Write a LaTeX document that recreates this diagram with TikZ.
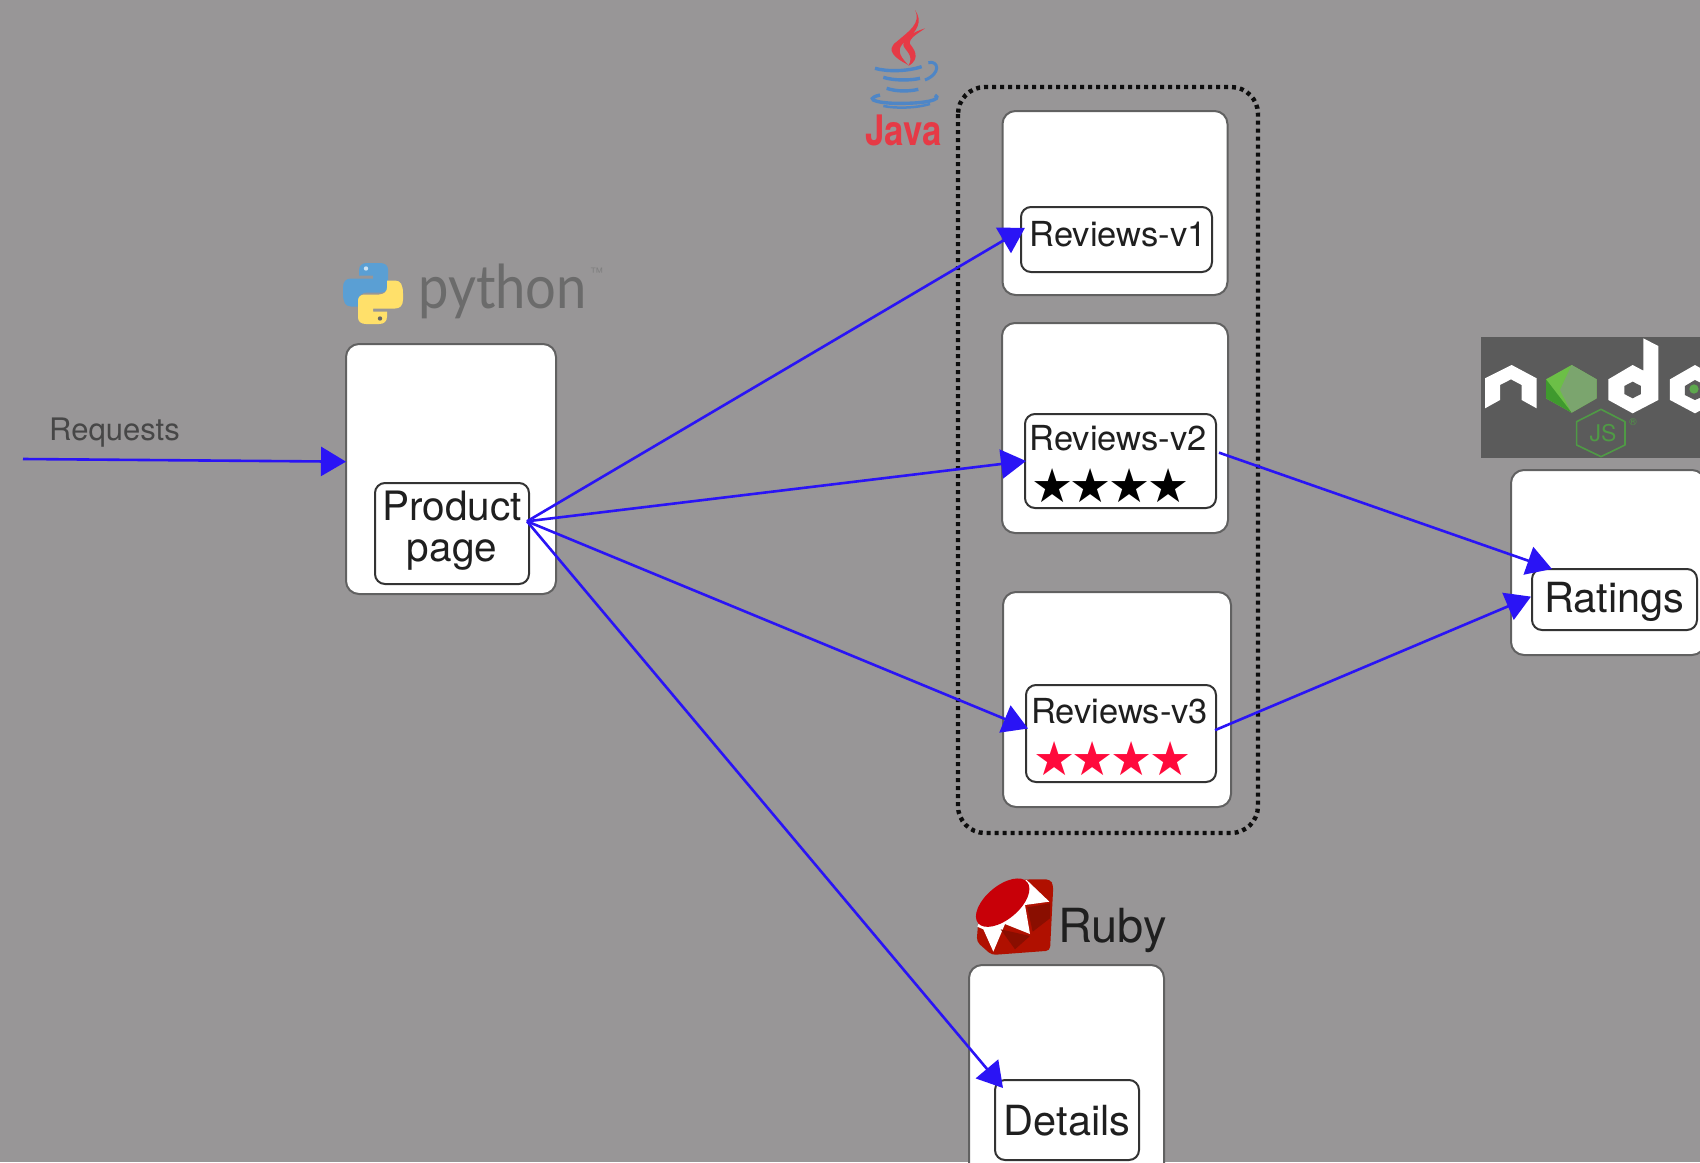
\documentclass[tikz,border=0pt]{standalone}
\usepackage{fontspec}
\setmainfont{TeX Gyre Heros}
\newfontfamily\starfont{DejaVu Sans}
\newfontfamily\logofont{Lato}
\usetikzlibrary{arrows.meta,calc}
\definecolor{bgc}{HTML}{989697}
\definecolor{flowc}{HTML}{2A14F5}
\definecolor{nodebg}{HTML}{5B5B5B}
\definecolor{jred}{HTML}{E63A46}
\definecolor{jblue}{HTML}{4F86C6}
\definecolor{pyblue}{HTML}{5A9FD4}
\definecolor{pyyellow}{HTML}{FFE06A}
\definecolor{rubydark}{HTML}{B01000}
\definecolor{rubydeep}{HTML}{8A0E00}
\definecolor{rubyred}{HTML}{C80008}
\definecolor{ngreen}{HTML}{6CBF47}
\definecolor{ngreendk}{HTML}{3F9A2E}
\definecolor{ngreengr}{HTML}{7BA56E}
\definecolor{ngreendot}{HTML}{5DA84D}
\definecolor{njs}{HTML}{4F9A45}
\definecolor{starred}{HTML}{FF0A3C}
\newcommand{\fs}[1]{\fontsize{#1}{#1}\selectfont}
\newcommand{\fourstars}{★\kern-3.5pt★\kern-3.5pt★\kern-3.5pt★}
\tikzset{
  outerbox/.style={draw=black!62,line width=2pt,fill=white,rounded corners=13pt,inner sep=0pt,outer sep=0pt},
  innerbox/.style={draw=black!80,line width=2pt,fill=white,rounded corners=10pt,inner sep=0pt,outer sep=0pt,text=black!88},
  flow/.style={draw=flowc,line width=2.6pt,-{Triangle[length=25pt,width=29pt,fill=flowc]}},
  starrow/.style={inner sep=0pt,anchor=west,font=\starfont\fs{47}},
  plain/.style={inner sep=0pt,anchor=base west},
}
\begin{document}
\begin{tikzpicture}[x=1pt,y=-1pt]
\useasboundingbox (0,0) rectangle (1700,1162);
\clip (0,0) rectangle (1700,1162);
\fill[bgc] (0,0) rectangle (1700,1162);

% dotted group
\draw[black!95,line width=4.4pt,dash pattern=on 4pt off 4pt,rounded corners=27pt] (958,87) rectangle (1258,833);

% service boxes
\node[outerbox,minimum width=210pt,minimum height=250pt] (prodOuter) at (451,469) {};
\node[outerbox,minimum width=225pt,minimum height=184pt] (v1Outer) at (1115,203) {};
\node[outerbox,minimum width=226pt,minimum height=210pt] (v2Outer) at (1115,428) {};
\node[outerbox,minimum width=228pt,minimum height=215pt] (v3Outer) at (1117,699.5) {};
\node[outerbox,minimum width=194pt,minimum height=185pt] (ratOuter) at (1608,562.5) {};
\node[outerbox,minimum width=195pt,minimum height=215pt] (detOuter) at (1066.5,1072.5) {};

\node[innerbox,minimum width=154pt,minimum height=101pt,align=center,font=\fontsize{40.5}{41}\selectfont] (prod) at (452,533.5) {Product\\page\rule[-14pt]{0pt}{1pt}};
\node[innerbox,minimum width=191pt,minimum height=65pt,font=\fs{34.5},text height=22pt,text depth=9pt] (v1) at (1116.5,239.5) {\hspace*{3pt}Reviews-v1};
\node[innerbox,minimum width=191pt,minimum height=94pt,font=\fs{34.5},text height=8pt,text depth=30pt] (v2) at (1120.5,461) {Reviews-v2\hspace*{5pt}};
\node[innerbox,minimum width=190pt,minimum height=97pt,font=\fs{34.5},text height=9pt,text depth=30pt] (v3) at (1121,733.5) {Reviews-v3\hspace*{3pt}};
\node[innerbox,minimum width=165pt,minimum height=61pt,font=\fs{41.5},text height=30pt,text depth=5pt] (rat) at (1614.5,599.5) {Ratings};
\node[innerbox,minimum width=144pt,minimum height=80pt,font=\fs{41.5},text height=31pt,text depth=0pt] (det) at (1067,1120) {Details};

\node[starrow,text=black] (stars2) at (1031,486) {\fourstars};
\node[starrow,text=starred] (stars3) at (1033,759) {\fourstars};

\node[plain,font=\fs{31},text=black!72] (req) at (49,440) {Requests};
\coordinate (reqStart) at (23,459);

% connectors
\draw[flow] (reqStart) -- (prodOuter.176);
\draw[flow] ([xshift=-2pt]prod.9) -- ([xshift=4pt]v1.173);
\draw[flow] ([xshift=-2pt]prod.9) -- ([xshift=1pt]v2.west);
\draw[flow] ([xshift=-2pt]prod.9) -- ([xshift=2pt]v3.177);
\draw[flow] ([xshift=-2pt]prod.9) -- ([shift={(8pt,-8pt)}]det.north west);
\draw[flow] ([xshift=3pt]v2.5) -- (rat.154);
\draw[flow] ([xshift=-1pt]v3.2) -- ([xshift=-1pt]rat.178);

% python logo
\node[plain,font=\logofont\fs{56},text=black!58,xscale=.97,yscale=1.08] (pyText) at (418,308) {python};
\node[plain,font=\fs{13},text=black!50] (pyTm) at (590,277) {™};
\begin{scope}[shift={(373,293.5)}]
  \fill[pyblue] (-14,-23) .. controls (-14,-28) and (-11,-30.5) .. (-6,-30.5) -- (7,-30.5) .. controls (12,-30.5) and (15,-28) .. (15,-24) -- (15,-7) .. controls (15,-3) and (12,-1) .. (8,-1) -- (-6,-1) .. controls (-11,-1) and (-14,2) .. (-14,6) -- (-14,13) -- (-22,13) .. controls (-28,13) and (-30,8) .. (-30,0) -- (-30,-6) .. controls (-30,-12) and (-27,-15) .. (-22,-15) -- (0,-15) -- (0,-18) -- (-14,-18) -- cycle;
  \fill[white!70!pyblue] (-7,-25) circle (2.2);
  \begin{scope}[rotate=180]
    \fill[pyyellow] (-14,-23) .. controls (-14,-28) and (-11,-30.5) .. (-6,-30.5) -- (7,-30.5) .. controls (12,-30.5) and (15,-28) .. (15,-24) -- (15,-7) .. controls (15,-3) and (12,-1) .. (8,-1) -- (-6,-1) .. controls (-11,-1) and (-14,2) .. (-14,6) -- (-14,13) -- (-22,13) .. controls (-28,13) and (-30,8) .. (-30,0) -- (-30,-6) .. controls (-30,-12) and (-27,-15) .. (-22,-15) -- (0,-15) -- (0,-18) -- (-14,-18) -- cycle;
    \fill[black!60] (-7,-25) circle (2.2);
  \end{scope}
\end{scope}

% java logo
\node[plain,font=\bfseries\fs{42},text=jred,xscale=.83] (javaText) at (865,145) {Java};
\begin{scope}[shift={(840,0)},x=.3333pt,y=-.3333pt]
  \fill[jred] (225,30) .. controls (245,70) and (205,95) .. (170,125) .. controls (135,150) and (165,175) .. (205,195) .. controls (175,165) and (170,145) .. (195,125) .. controls (230,95) and (250,65) .. (225,30) -- cycle;
  \fill[jred] (255,85) .. controls (225,95) and (190,110) .. (190,135) .. controls (192,150) and (225,165) .. (205,198) .. controls (245,175) and (220,145) .. (210,132) .. controls (205,115) and (235,100) .. (255,85) -- cycle;
  \draw[jblue,line width=3.4pt] (105,205) .. controls (140,215) and (200,215) .. (245,200);
  \draw[jblue,line width=3pt] (265,188) .. controls (295,180) and (305,220) .. (255,240);
  \draw[jblue,line width=3.4pt] (130,232) .. controls (160,242) and (210,242) .. (240,235);
  \draw[jblue,line width=3.4pt] (140,265) .. controls (170,275) and (205,275) .. (235,268);
  \draw[jblue,line width=3.4pt] (120,285) .. controls (60,300) and (130,312) .. (190,310) .. controls (250,310) and (310,300) .. (285,285);
  \draw[jblue,line width=2.5pt] (130,318) .. controls (170,326) and (230,324) .. (270,312);
\end{scope}

% ruby logo
\node[plain,font=\fs{47},text=black!88] (rubyText) at (1058,942) {Ruby};
\begin{scope}[shift={(950,860)},x=.3333pt,y=-.3333pt]
  \fill[rubydark,rounded corners=4pt] (240,58) -- (300,58) -- (310,75) -- (300,272) -- (125,285) -- (80,245) -- (85,180) -- (130,110) -- (190,62) -- cycle;
  \fill[white] (230,60) -- (298,125) -- (225,135) -- (240,222) -- (165,192) -- (130,275) -- (100,208) -- (82,200) -- (120,100) -- cycle;
  \fill[rubydeep] (300,130) -- (232,142) -- (248,215) -- (300,175) -- cycle;
  \fill[rubydeep] (152,208) -- (240,228) -- (195,268) -- cycle;
  \fill[rubyred,rotate around={40:(158,128)}] (158,128) ellipse (96 and 50);
\end{scope}

% node logo
\fill[nodebg] (1481,337) rectangle (1700,458);
\begin{scope}[shift={(1440,320)},x=.3333pt,y=-.3333pt]
  \fill[white] (135,175) -- (215,135) -- (290,175) -- (290,265) -- (245,240) -- (245,195) -- (213,178) -- (180,195) -- (180,240) -- (135,265) -- cycle;
  \fill[ngreen] (395,135) -- (470,178) -- (470,235) -- (395,278) -- (318,235) -- (318,178) -- cycle;
  \fill[ngreendk] (318,178) -- (395,278) -- (318,235) -- cycle;
  \fill[ngreengr] (395,278) -- (360,210) -- (395,135) -- (470,178) -- (470,235) -- cycle;
  \fill[white] (610,55) -- (655,78) -- (655,240) -- (578,280) -- (505,240) -- (505,178) -- (578,135) -- (610,152) -- cycle;
  \fill[nodebg] (578,185) -- (603,198) -- (603,222) -- (578,235) -- (553,222) -- (553,198) -- cycle;
  \fill[white] (765,135) -- (840,178) -- (840,240) -- (765,280) -- (690,240) -- (690,178) -- cycle;
  \fill[nodebg] (765,180) -- (800,198) -- (800,225) -- (765,240) -- (735,225) -- (735,198) -- cycle;
  \fill[ngreendot] (762,207) circle (14);
  \draw[njs,line width=1.6pt,line join=round] (483,268) -- (555,305) -- (555,375) -- (483,410) -- (410,375) -- (410,305) -- cycle;
\end{scope}
\node[inner sep=0pt,font=\fs{23},text=njs] (jsText) at (1603,433) {JS};
\node[inner sep=0pt,font=\fs{10},text=njs] (jsReg) at (1633,422) {®};
\end{tikzpicture}
\end{document}
